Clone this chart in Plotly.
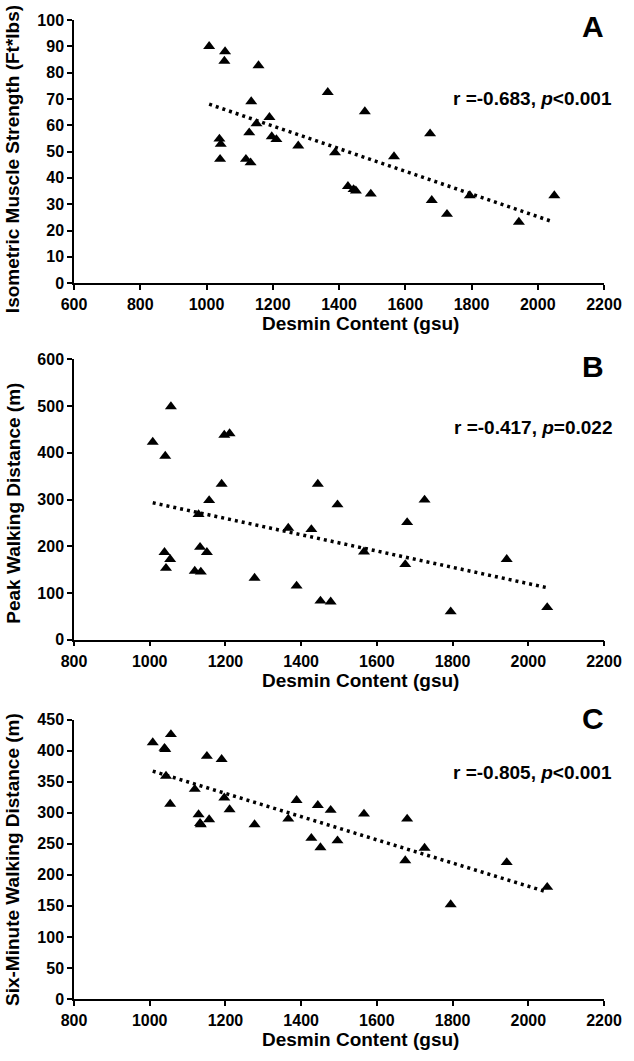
import plotly.graph_objects as go

# ---- data ----
desmin = [1008, 1039, 1041, 1043, 1054, 1056, 1119, 1129, 1133, 1135,
          1151, 1157, 1190, 1197, 1211, 1277, 1366, 1388, 1427, 1444,
          1451, 1478, 1496, 1566, 1675, 1680, 1726, 1795, 1943, 2050]
strength = [90, 54.8, 47.1, 52.8, 84.4, 88, 47.1, 57.2, 45.8, 69,
            60.6, 82.7, 63, 55.7, 54.6, 52.2, 72.5, 49.6, 36.8, 35.6,
            35.1, 65.2, 33.9, 48.1, 56.8, 31.5, 26.2, 33.3, 23.2, 33.3]
peak_walk = [423, 187, 393, 153, 172, 499, 147, 268, 198, 145,
             187, 298, 333, 438, 441, 132, 239, 115, 236, 333,
             83, 81, 289, 188, 161, 251, 299, 60, 172, 69]
six_min_walk = [413, 404, 402, 359, 314, 426, 338, 297, 283, 281,
                391, 289, 386, 324, 305, 281, 290, 320, 259, 312,
                244, 304, 255, 298, 223, 290, 243, 152, 220, 180]

trend_x = [1008, 2046]
trend_strength = [68, 23.3]
trend_peak = [293, 112]
trend_six = [367, 173]

stats = ["r =-0.683, <i>p</i><0.001", "r =-0.417, <i>p</i>=0.022", "r =-0.805, <i>p</i><0.001"]
letters = ["A", "B", "C"]
y_titles = ["Isometric Muscle Strength (Ft*lbs)", "Peak Walking Distance (m)",
            "Six-Minute Walking Distance (m)"]
x_title = "Desmin Content (gsu)"

FONT = "Liberation Sans, Arial, Helvetica, sans-serif"

fig = go.Figure()
series = [(strength, trend_strength), (peak_walk, trend_peak), (six_min_walk, trend_six)]
for i, (ys, tr) in enumerate(series):
    sfx = "" if i == 0 else str(i + 1)
    fig.add_trace(go.Scatter(x=trend_x, y=tr, mode="lines",
                             line=dict(color="black", width=3.5, dash="3px,4px"),
                             xaxis="x" + sfx, yaxis="y" + sfx, showlegend=False))
    fig.add_trace(go.Scatter(x=desmin, y=ys, mode="markers",
                             marker=dict(symbol="triangle-up", size=10.5, color="black"),
                             xaxis="x" + sfx, yaxis="y" + sfx, showlegend=False))

domains = [[0.7312, 1.0], [0.3670, 0.6534], [0.0, 0.2854]]
xranges = [[600, 2200], [800, 2200], [800, 2200]]
yranges = [[0, 100], [0, 600], [0, 450]]
ydticks = [10, 100, 50]

tickfont = dict(family=FONT, size=16, color="black", weight="bold")
axis_common = dict(showgrid=False, zeroline=False, showline=True, linecolor="black",
                   linewidth=1.5, ticks="outside", ticklen=5, tickcolor="black",
                   tickwidth=1.5, tickfont=tickfont)

layout = dict(width=634, height=1061, plot_bgcolor="white", paper_bgcolor="white",
              margin=dict(l=74, r=24, t=18, b=62), showlegend=False)
for i in range(3):
    sfx = "" if i == 0 else str(i + 1)
    layout["xaxis" + sfx] = dict(axis_common, domain=[0, 1], range=xranges[i], dtick=200,
                                 anchor="y" + sfx, ticklabelstandoff=1)
    layout["yaxis" + sfx] = dict(axis_common, domain=domains[i], range=yranges[i],
                                 dtick=ydticks[i], anchor="x" + sfx)
fig.update_layout(**layout)

title_font = dict(family=FONT, size=19, color="black", weight="bold")
stat_y = [0.701, 0.758, 0.811]
let_y = [0.975, 0.975, 1.0036]
xt_y = [-0.155, -0.145, -0.146]
yt_y = [0.47, 0.4875, 0.5]
for i in range(3):
    sfx = "" if i == 0 else str(i + 1)
    xr, yr = "x" + sfx + " domain", "y" + sfx + " domain"
    fig.add_annotation(text=stats[i], xref=xr, yref=yr, x=1.0187, y=stat_y[i],
                       xanchor="right", yanchor="middle", showarrow=False, font=title_font)
    fig.add_annotation(text=letters[i], xref=xr, yref=yr, x=0.979, y=let_y[i],
                       xanchor="center", yanchor="middle", showarrow=False,
                       font=dict(family=FONT, size=30, color="black", weight="bold"))
    fig.add_annotation(text=x_title, xref=xr, yref=yr, x=0.541, y=xt_y[i],
                       xanchor="center", yanchor="middle", showarrow=False, font=title_font)
    fig.add_annotation(text=y_titles[i], xref=xr, yref=yr, x=-0.1157, y=yt_y[i],
                       xanchor="center", yanchor="middle", textangle=-90,
                       showarrow=False, font=title_font)

fig.write_html("out.html", config={"displayModeBar": False},
               post_script="document.body.style.margin='0px';")
